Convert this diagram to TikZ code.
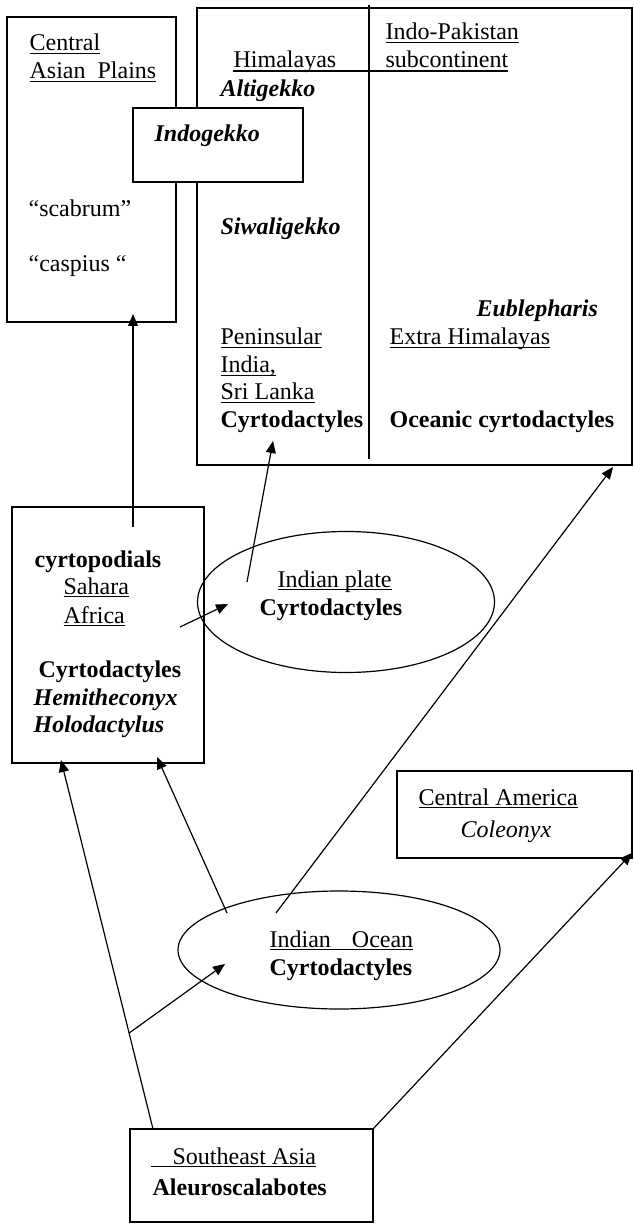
\documentclass[tikz,border=0pt]{standalone}
\usepackage{fontspec}
\setmainfont{Liberation Serif}
\usetikzlibrary{arrows.meta,shapes.geometric}
\newcommand{\undl}[1]{\setbox0\hbox{#1}\rlap{\vrule height -0.8pt depth 1.4pt width \wd0}\box0}

\begin{document}
\begin{tikzpicture}[
  x=0.5pt, y=-0.5pt, line width=0.6pt,
  font=\fontsize{12}{14}\selectfont,
  reg/.style ={draw, inner sep=0pt, outer sep=0pt},
  oval/.style={draw, ellipse, inner sep=0pt, outer sep=0pt},
  tx/.style  ={anchor=base west, inner sep=0pt},
  ar/.style  ={-{Triangle[length=6pt,width=5pt]}}
]
\useasboundingbox (0,0) rectangle (633,1224);

% ---------- upper regions ----------
\node[reg, minimum width=84.5pt, minimum height=152.5pt] (cap) at (91.5,169.5) {};
\node[reg, minimum width=217.5pt, minimum height=228.5pt] (ind) at (414.5,236.5) {};
\coordinate (divtop) at (369,5);
\coordinate (divbot) at (369,459);
\draw (divtop) -- (divbot);
\coordinate (hl) at (233,71);
\coordinate (hr) at (508,71);
\draw (hl) -- (hr);
\node[reg, fill=white, minimum width=85pt, minimum height=37pt] (igk) at (218,145) {};

\node[tx] (capA) at (29,51)  {\undl{Central}};
\node[tx] (capB) at (29,79)  {\undl{Asian\hspace{6pt}Plains}};
\node[tx] (scab) at (28,217) {“scabrum”};
\node[tx] (casp) at (28,272) {“caspius “};

\node[tx] (indpk) at (385,40) {\undl{Indo-Pakistan}};
\node[tx] (him)   at (233,68) {Himalayas};
\node[tx] (subc)  at (385,68) {subcontinent};
\node[tx] (alti)  at (220,97) {\textbf{\textit{Altigekko}}};
\node[tx] (indog) at (154,142) {\textbf{\textit{Indogekko}}};
\node[tx] (siwa)  at (220,235) {\textbf{\textit{Siwaligekko}}};
\node[tx] (eubl)  at (476,317) {\textbf{\textit{Eublepharis}}};
\node[tx] (pen)   at (220,345) {\undl{Peninsular}};
\node[tx] (indi)  at (220,373) {\undl{India,}};
\node[tx] (sril)  at (220,400) {\undl{Sri Lanka}};
\node[tx] (pcyr)  at (220,428) {\textbf{Cyrtodactyles}};
\node[tx] (extra) at (389,345) {\undl{Extra Himalayas}};
\node[tx] (ocyr)  at (389,428) {\textbf{Oceanic cyrtodactyles}};

% ---------- middle ----------
\node[reg, minimum width=96pt, minimum height=128pt] (cyr) at (108,635) {};
\node[oval, minimum width=148.5pt, minimum height=70.5pt] (plate) at (346,602) {};

\node[tx] (cpod) at (34,567) {\textbf{cyrtopodials}};
\node[tx] (sah)  at (63,594) {\undl{Sahara}};
\node[tx] (afr)  at (63,623) {\undl{Africa}};
\node[tx] (cyrt) at (38,677) {\textbf{Cyrtodactyles}};
\node[tx] (hemi) at (33,705) {\textbf{\textit{Hemitheconyx}}};
\node[tx] (holo) at (33,732) {\textbf{\textit{Holodactylus}}};
\node[tx] (iplt)  at (277,587) {\undl{Indian plate}};
\node[tx] (ipcyr) at (259,615) {\textbf{Cyrtodactyles}};

% ---------- lower ----------
\node[reg, minimum width=117.5pt, minimum height=43.5pt] (cam) at (514.5,814.5) {};
\node[oval, minimum width=161pt, minimum height=59pt] (ocean) at (339,950) {};
\node[reg, minimum width=121.5pt, minimum height=46.5pt] (sea) at (251.5,1175.5) {};

\node[tx] (camt)  at (418,805) {\undl{Central America}};
\node[tx] (cole)  at (460,837) {\textit{Coleonyx}};
\node[tx] (ioc)   at (269,947) {\undl{Indian\hspace{10.5pt}Ocean}};
\node[tx] (iocyr) at (269,975) {\textbf{Cyrtodactyles}};
\node[tx] (seat)  at (150,1164) {\undl{\hspace{11pt}Southeast Asia}};
\node[tx] (aleu)  at (152,1195) {\textbf{Aleuroscalabotes}};

% ---------- connectors ----------
\coordinate (cyrUp)  at (133,527);
\coordinate (capIn)  at (133,314);
\coordinate (cyrOut) at (180,627);
\coordinate (plIn)   at (228,604);
\coordinate (plOut)  at (247,582);
\coordinate (penIn)  at (273,441);
\coordinate (seaL)   at (153,1129);
\coordinate (cyrL)   at (61,760);
\coordinate (ocIn)   at (225,964);
\coordinate (ocL)    at (227,913);
\coordinate (cyrR)   at (157,757);
\coordinate (ocR)    at (276,913);
\coordinate (indIn)  at (613,467);
\coordinate (camIn)  at (632,853);

\draw[ar] (cyrUp) -- (capIn);
\draw[ar] (cyrOut) -- (plIn);
\draw[ar] (plOut) -- (penIn);
\draw[ar] (seaL) -- coordinate[pos=0.26] (fork) (cyrL);
\draw[ar] (fork) -- (ocIn);
\draw[ar] (ocL) -- (cyrR);
\draw[ar] (ocR) -- (indIn);
\draw[ar] (sea.north east) -- (camIn);
\end{tikzpicture}
\end{document}
